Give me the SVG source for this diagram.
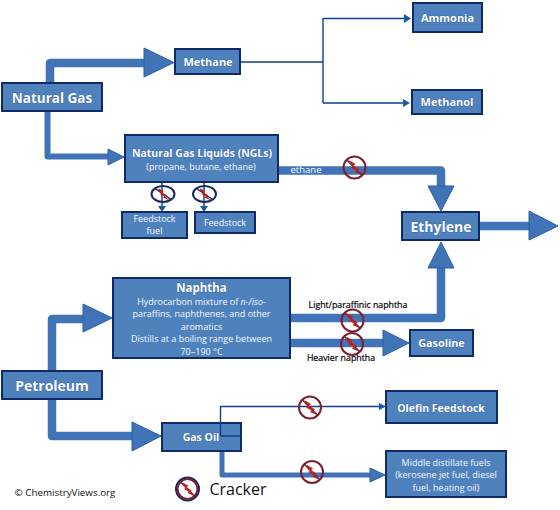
<svg xmlns="http://www.w3.org/2000/svg" xmlns:xlink="http://www.w3.org/1999/xlink" width="560" height="510" viewBox="0 0 560 510">
<style>
text{font-family:"Open Sans","Liberation Sans",sans-serif;text-anchor:middle}
.box{fill:#4f81bd;stroke:#0f2a68;stroke-width:2}
.t{fill:#fff;font-weight:700;stroke:#1f4e9a;stroke-width:.5px;paint-order:stroke}
.s{fill:#f4f8ff;font-size:9px}
.big{fill:none;stroke:#4174b6;stroke-width:8.5;stroke-linejoin:round}
.head{fill:#4174b6;stroke:#2a5ea8;stroke-width:1}
.thin{fill:none;stroke:#0f3f8f;stroke-width:1.4}
.thinh{fill:#1f55a5}
.lab{fill:#000;font-size:8.800px;stroke:#000;stroke-width:.2px}
</style>
<defs>
<g id="bolt"><path d="M-5,-7 L1,-3.5 L-1,-2 L5,2 L3,3 L8,8 L0,4.500 L1.500,3 L-4,0 L-2,-1 L-6,-5 Z" fill="#c0201a"/></g>
<g id="cr"><circle r="11" fill="none" stroke="#7d1f2e" stroke-width="2"/><path d="M-8,-8 L8,8" stroke="#3a2a60" stroke-width="1.500"/><use xlink:href="#bolt"/></g>
<g id="cre"><ellipse rx="11.500" ry="8" fill="none" stroke="#1a2a5e" stroke-width="2"/><path d="M-8,-5.500 L8,5.500" stroke="#1a2a5e" stroke-width="1.500"/><use xlink:href="#bolt" transform="scale(.8)"/></g>
</defs>
<rect width="560" height="510" fill="#fff"/>
<g id="connectors">
<path class="big" d="M50,85 V63 H146"/><polygon class="head" points="144,48 174,62.500 144,77"/>
<path class="big" style="stroke-width:6" d="M47.500,111 V156.500 H110"/><polygon class="head" points="108,149 124,157 108,165"/>
<path class="big" d="M278,170.500 H441 V188"/><polygon class="head" points="428,186 454,186 441,211"/>
<path class="big" d="M479,226 H531"/><polygon class="head" points="529,211 558,226 529,240"/>
<path class="big" d="M290,318 H441 V266"/><polygon class="head" points="428,268 454,268 441,242"/>
<path class="big" d="M290,343 H385"/><polygon class="head" points="383,330 409,343 383,356"/>
<path class="big" d="M52,372 V319 H85"/><polygon class="head" points="83,304 112,318 83,332"/>
<path class="big" d="M52,399 V436 H134"/><polygon class="head" points="132,422 161,436 132,451"/>
<path class="big" style="stroke-width:5" d="M222,451 V475 H372"/><polygon class="head" points="370,468 385,475 370,482"/>
<path class="thin" d="M240,62 H323 M323,18 V103 M323,18.500 H405 M323,103 H405"/><polygon class="thinh" points="404,14 411,18.500 404,23"/><polygon class="thinh" points="403,99 410,103 403,107"/>
<path class="thin" d="M162,182 V206 M204,182 V206"/><polygon class="thinh" points="158,206 166,206 162,212"/><polygon class="thinh" points="200,206 208,206 204,212"/>
</g>
<g id="natural-gas"><rect class="box" x="2" y="83" width="100" height="28"/><text class="t" x="52" y="103" font-size="13.500">Natural Gas</text></g>
<g id="methane"><rect class="box" x="175" y="49" width="65" height="25"/><text class="t" x="208" y="66" font-size="11">Methane</text></g>
<g id="ammonia"><rect class="box" x="413" y="3" width="69" height="29"/><text class="t" x="447.500" y="22" font-size="11">Ammonia</text></g>
<g id="methanol"><rect class="box" x="412" y="90" width="70" height="24"/><text class="t" x="447" y="106" font-size="11">Methanol</text></g>
<g id="ngl"><rect class="box" x="125" y="135" width="153" height="47"/><text class="t" x="202" y="157" font-size="10.500">Natural Gas Liquids (NGLs)</text><text class="s" x="201" y="170">(propane, butane, ethane)</text></g>
<g id="feedstock-fuel"><rect class="box" x="122" y="212" width="65" height="26"/><text class="s" x="154.500" y="222">Feedstock</text><text class="s" x="154.500" y="234">fuel</text></g>
<g id="feedstock"><rect class="box" x="195" y="212" width="60" height="21"/><text class="s" x="225" y="226">Feedstock</text></g>
<g id="ethylene"><rect class="box" x="402" y="212" width="77" height="28"/><text class="t" x="441" y="232" font-size="14">Ethylene</text></g>
<g id="naphtha"><rect class="box" x="113" y="278" width="177" height="80"/><text class="t" x="201.500" y="292" font-size="11.500">Naphtha</text>
<text class="s" x="201.500" y="305">Hydrocarbon mixture of <tspan font-style="italic">n-/iso-</tspan></text><text class="s" x="201.500" y="317">paraffins, naphthenes, and other</text><text class="s" x="201.500" y="330">aromatics</text><text class="s" x="201.500" y="342">Distills at a boiling range between</text><text class="s" x="201.500" y="355">70–190 °C</text></g>
<g id="gasoline"><rect class="box" x="410" y="330" width="63" height="26"/><text class="t" x="441.500" y="347" font-size="10.800">Gasoline</text></g>
<g id="petroleum"><rect class="box" x="2" y="371" width="100" height="28"/><text class="t" x="52" y="391" font-size="14">Petroleum</text></g>
<g id="gas-oil"><rect class="box" x="162" y="423" width="79" height="28"/><text class="t" x="201" y="441" font-size="10.500">Gas Oil</text></g>
<g id="olefin"><rect class="box" x="386" y="391" width="111" height="32"/><text class="t" x="441" y="412" font-size="10.500">Olefin Feedstock</text></g>
<g id="middle"><rect class="box" x="386" y="451" width="120" height="46"/><text class="s" x="446" y="466">Middle distillate fuels</text><text class="s" x="446" y="478">(kerosene jet fuel, diesel</text><text class="s" x="446" y="491">fuel, heating oil)</text></g>
<g id="overlay-connectors"><path class="thin" d="M220.500,436 H241 M220.500,436 V406.500 H379"/><polygon class="thinh" points="379,403 386,406.500 379,410"/></g>
<g id="labels">
<text x="306" y="173" font-size="9.500" fill="#fff">ethane</text>
<text class="lab" x="358" y="308">Light/paraffinic naphtha</text>
<text class="lab" x="341" y="361">Heavier naphtha</text>
<text x="65" y="496" font-size="9.800" fill="#111">© ChemistryViews.org</text>
<text x="238" y="495" font-size="16" fill="#111">Cracker</text>
</g>
<g id="crackers">
<use xlink:href="#cr" x="354.500" y="167.500"/><use xlink:href="#cre" x="163" y="194"/><use xlink:href="#cre" x="204.500" y="194"/>
<use xlink:href="#cr" x="352.500" y="320.500"/><use xlink:href="#cr" x="352" y="344"/><use xlink:href="#cr" x="310" y="407.500"/><use xlink:href="#cr" x="312" y="472"/>
<g id="cracker-legend"><circle cx="187.500" cy="489" r="11.500" fill="none" stroke="#1a2a5e" stroke-width="2"/><use xlink:href="#cr" transform="translate(187.500 489) scale(.9)"/></g>
</g>
</svg>
